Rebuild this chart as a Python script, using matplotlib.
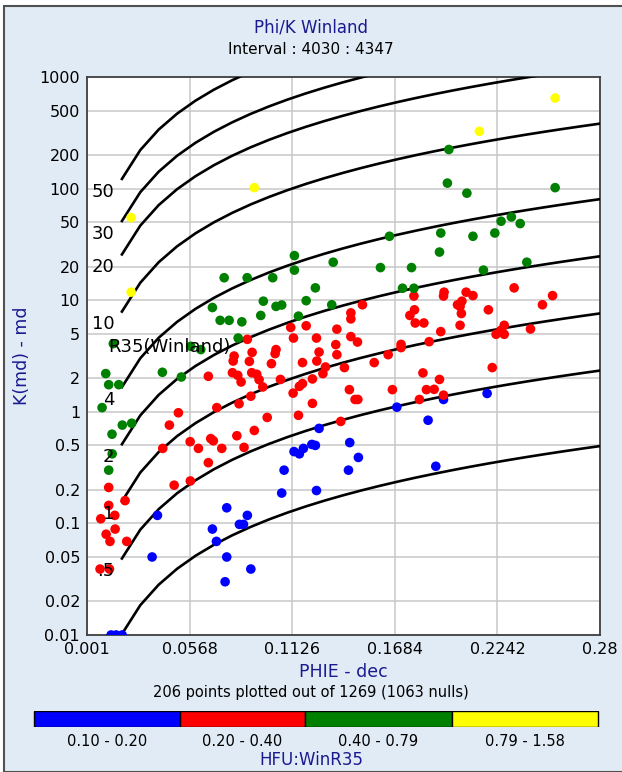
import numpy as np
import matplotlib
matplotlib.use('Agg')
import matplotlib.pyplot as plt
from matplotlib.patches import Rectangle

# HFU:WinR35 classes, values (PHIE fraction, K in md)
phi_yellow = [0.2556, 0.2144, 0.0920, 0.0250, 0.0250]
k_yellow = [648, 326, 102, 55, 11.8]

phi_green = [0.1978, 0.1970, 0.2076, 0.2556, 0.1934, 0.2109, 0.2228, 0.2262, 0.2318, 0.2366,
             0.1927, 0.2166, 0.2402, 0.1655, 0.1138, 0.1138, 0.1020, 0.1349, 0.1606, 0.1775,
             0.1726, 0.1788, 0.0969, 0.1038, 0.1069, 0.1202, 0.1252, 0.1341, 0.1160, 0.0955,
             0.0756, 0.0881, 0.0692, 0.0734, 0.0783, 0.0852, 0.0832, 0.0153, 0.0574, 0.0629,
             0.0112, 0.0420, 0.0523, 0.0128, 0.0183, 0.0092, 0.0202, 0.0253, 0.0146, 0.0147,
             0.0128]
k_green = [224, 112, 91, 102, 40, 37.4, 40, 51, 55.7, 48.6,
           27, 18.6, 21.9, 37.4, 25.1, 18.6, 15.9, 21.9, 19.6, 19.6,
           12.8, 12.8, 9.8, 8.8, 9.05, 9.9, 12.9, 9.1, 7.2, 7.3,
           15.9, 15.9, 8.6, 6.6, 6.6, 6.4, 4.58, 4.08, 3.86, 3.61,
           2.2, 2.26, 2.05, 1.75, 1.75, 1.09, 0.76, 0.79, 0.63, 0.42,
           0.30]

phi_red = [0.1952, 0.1949, 0.2072, 0.2109, 0.2333, 0.2542, 0.2487, 0.2049, 0.2025, 0.2039,
           0.2046, 0.2193, 0.2039, 0.1934, 0.2279, 0.2261, 0.2235, 0.2279, 0.2422, 0.1871,
           0.2214, 0.1927, 0.1898, 0.1949, 0.1508, 0.1445, 0.1445, 0.1118, 0.1202, 0.1369,
           0.1133, 0.1258, 0.1445, 0.1481, 0.1363, 0.1718, 0.1718, 0.1788, 0.1766, 0.1791,
           0.1795, 0.1842, 0.1038, 0.1033, 0.1272, 0.1369, 0.1648, 0.1013, 0.1182, 0.1260,
           0.1307, 0.1293, 0.1410, 0.1572, 0.1062, 0.0966, 0.1236, 0.1182, 0.1165, 0.1131,
           0.1437, 0.1671, 0.1837, 0.1856, 0.1818, 0.1468, 0.1483, 0.1236, 0.0990, 0.1160,
           0.1390, 0.0882, 0.0908, 0.0810, 0.0805, 0.0893, 0.0670, 0.0801, 0.0830, 0.0848,
           0.0906, 0.0933, 0.0946, 0.0901, 0.0837, 0.0716, 0.0507, 0.0458, 0.0920, 0.0825,
           0.0571, 0.0683, 0.0697, 0.0616, 0.0743, 0.0864, 0.0422, 0.0670, 0.0484, 0.0572,
           0.0217, 0.0128, 0.0128, 0.0161, 0.0085, 0.0163, 0.0114, 0.0135, 0.0226, 0.0081,
           0.0132]
k_red = [11.8, 10.9, 11.8, 11.0, 12.9, 11.0, 9.1, 9.8, 9.1, 8.8,
         7.6, 8.2, 5.96, 5.23, 5.96, 5.37, 4.95, 4.95, 5.52, 4.25,
         2.49, 1.95, 1.59, 1.41, 9.1, 7.7, 6.8, 5.7, 5.9, 5.5,
         4.58, 4.58, 4.72, 4.22, 4.0, 4.02, 3.76, 10.9, 7.3, 8.2,
         6.25, 6.25, 3.61, 3.32, 3.43, 3.25, 3.25, 2.7, 2.76, 2.85,
         2.52, 2.2, 2.49, 2.76, 1.95, 1.67, 1.97, 1.79, 1.69, 1.47,
         1.58, 1.58, 2.23, 1.58, 1.29, 1.29, 1.29, 1.19, 0.89, 0.93,
         0.82, 4.46, 3.41, 3.16, 2.85, 2.83, 2.08, 2.24, 2.12, 1.85,
         2.24, 2.17, 1.94, 1.38, 1.18, 1.09, 0.98, 0.76, 0.68, 0.61,
         0.54, 0.575, 0.55, 0.47, 0.47, 0.48, 0.47, 0.35, 0.22, 0.24,
         0.16, 0.21, 0.145, 0.118, 0.11, 0.089, 0.08, 0.069, 0.069, 0.039,
         0.039]

phi_blue = [0.1949, 0.2186, 0.1865, 0.1907, 0.1695, 0.1272, 0.1439, 0.1136, 0.1165, 0.1187,
            0.1233, 0.1252, 0.1486, 0.1082, 0.1432, 0.1069, 0.1258, 0.0393, 0.0770, 0.0692,
            0.0714, 0.0839, 0.0861, 0.0882, 0.0364, 0.0770, 0.0901, 0.0761, 0.0141, 0.0168,
            0.0201]
k_blue = [1.29, 1.46, 0.84, 0.325, 1.10, 0.71, 0.53, 0.44, 0.42, 0.47,
          0.51, 0.50, 0.39, 0.30, 0.30, 0.187, 0.197, 0.118, 0.138, 0.089,
          0.069, 0.098, 0.098, 0.118, 0.050, 0.050, 0.039, 0.030, 0.01, 0.01,
          0.01]

# Winland R35 lines
r35_values = [0.2, 0.5, 1, 2, 4, 10, 20, 30, 50]
r35_labels = ['', '.5', '1', '2', '4', '10', '20', '30', '50']

x_ticks = [0.001, 0.0568, 0.1126, 0.1684, 0.2242, 0.28]
x_tick_labels = ['0.001', '0.0568', '0.1126', '0.1684', '0.2242', '0.28']
y_ticks = [1000, 500, 200, 100, 50, 20, 10, 5, 2, 1, 0.5, 0.2, 0.1, 0.05, 0.02, 0.01]
y_tick_labels = ['1000', '500', '200', '100', '50', '20', '10', '5', '2', '1',
                 '0.5', '0.2', '0.1', '0.05', '0.02', '0.01']

class_labels = ['0.10 - 0.20', '0.20 - 0.40', '0.40 - 0.79', '0.79 - 1.58']
class_colors = ['#0000ff', '#ff0000', '#008000', '#ffff00']

navy = '#1a1a90'
panel = '#e1ebf5'

plt.rcParams['font.family'] = ['DejaVu Sans']

fig = plt.figure(figsize=(6.22, 7.72), dpi=100)
bg = Rectangle((4 / 622, 0), 1, 1 - 6 / 772, transform=fig.transFigure,
               facecolor=panel, edgecolor='#505050', linewidth=1.5, zorder=-5)
fig.patches.append(bg)

ax = fig.add_axes([87 / 622, 1 - 635 / 772, 513 / 622, 558 / 772])
ax.set_facecolor('white')
ax.set_yscale('log')
ax.set_xlim(0.001, 0.28)
ax.set_ylim(0.01, 1000)

# Winland: log R35 = 0.732 + 0.588 log K - 0.864 log PHI(%)
phi_line = np.arange(0.02, 0.2801, 0.01)
for r, lab in zip(r35_values, r35_labels):
    k_line = 10 ** ((np.log10(r) - 0.732 + 0.864 * np.log10(phi_line * 100)) / 0.588)
    ax.plot(phi_line, k_line, color='black', lw=1.9, zorder=3)
    if lab:
        ax.text(0.0158, k_line[0] / 1.3, lab, fontsize=13, ha='right', va='center', zorder=5)

ax.text(0.0125, 3.8, 'R35(Winland)', fontsize=13, ha='left', va='center', zorder=5)

for xs, ys, c in [(phi_blue, k_blue, class_colors[0]), (phi_red, k_red, class_colors[1]),
                  (phi_green, k_green, class_colors[2]), (phi_yellow, k_yellow, class_colors[3])]:
    ax.scatter(xs, ys, s=48, color=c, edgecolors='none', zorder=4, clip_on=True)

ax.set_xticks(x_ticks)
ax.set_xticklabels(x_tick_labels)
ax.set_yticks(y_ticks)
ax.set_yticklabels(y_tick_labels)
ax.yaxis.set_minor_locator(matplotlib.ticker.NullLocator())
ax.tick_params(length=0, labelsize=11.5, pad=5)
ax.grid(True, color='#c8c8c8', lw=1.1)
ax.set_axisbelow(True)
for s in ax.spines.values():
    s.set_color('#404040')
    s.set_linewidth(1.3)

fig.text(0.5, 1 - 27 / 772, 'Phi/K Winland', color=navy, fontsize=12, ha='center', va='center')
fig.text(0.5, 1 - 50 / 772, 'Interval : 4030 : 4347', fontsize=11, ha='center', va='center')
fig.text(343 / 622, 1 - 672 / 772, 'PHIE - dec', color=navy, fontsize=12.5, ha='center', va='center')
fig.text(22 / 622, 1 - 356 / 772, 'K(md) - md', color=navy, fontsize=12.5, rotation=90,
         ha='center', va='center')
fig.text(0.5, 1 - 692 / 772, '206 points plotted out of 1269 (1063 nulls)', fontsize=10.5,
         ha='center', va='center')

# class bar
seg_edges = [34, 180, 305, 452, 598]
cax = fig.add_axes([0, 1 - 727 / 772, 1, 16 / 772])
cax.set_xlim(0, 622)
cax.set_ylim(0, 1)
cax.axis('off')
for i, c in enumerate(class_colors):
    cax.add_patch(Rectangle((seg_edges[i], 0), seg_edges[i + 1] - seg_edges[i], 1,
                            facecolor=c, edgecolor='black', lw=1))
    fig.text((seg_edges[i] + seg_edges[i + 1]) / 2 / 622, 1 - 741 / 772, class_labels[i],
             fontsize=10.5, ha='center', va='center')
fig.text(0.5, 1 - 760 / 772, 'HFU:WinR35', color=navy, fontsize=12, ha='center', va='center')

fig.savefig('out.png', dpi=100)
